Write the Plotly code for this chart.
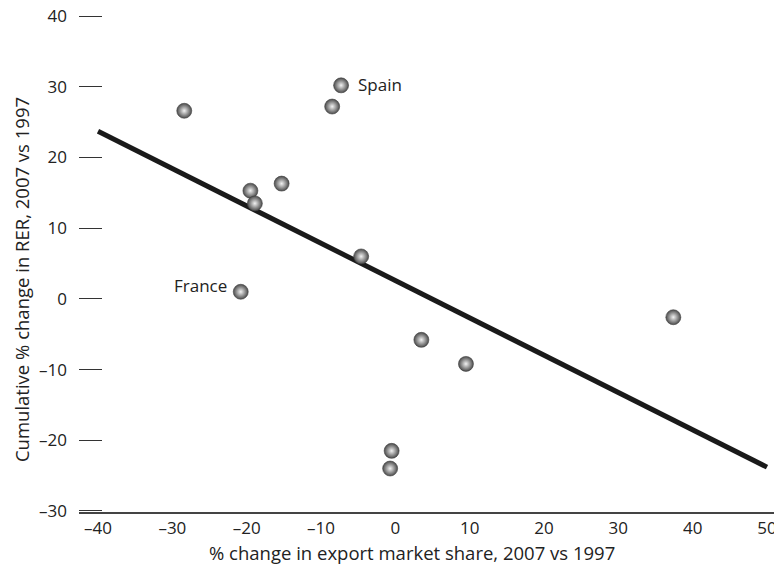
import plotly.graph_objects as go

# Data
export_share_change = [-28.4, -7.3, -8.5, -15.3, -19.5, -18.9, -4.6, -20.8, 3.5, 9.5, -0.5, -0.7, 37.4]
rer_change = [26.6, 30.2, 27.2, 16.3, 15.3, 13.5, 6.0, 1.0, -5.8, -9.2, -21.5, -24.0, -2.6]
point_labels = ["", "Spain", "", "", "", "", "", "France", "", "", "", "", ""]

fit_x = [-40, 50]
fit_y = [23.7, -23.8]

x_tick_vals = [-40, -30, -20, -10, 0, 10, 20, 30, 40, 50]
x_tick_text = ["–40", "–30", "–20", "–10", "0", "10", "20", "30", "40", "50"]
y_tick_vals = [-30, -20, -10, 0, 10, 20, 30, 40]
y_tick_text = ["–30", "–20", "–10", "0", "10", "20", "30", "40"]

FONT = "Open Sans"
FS = 17
FS_TITLE = 18.5

# page body has an 8px margin, so the figure is sized/positioned to compensate
fig = go.Figure()
fig.add_trace(go.Scatter(
    x=fit_x, y=fit_y, mode="lines",
    line=dict(color="#1a1a1a", width=5),
    hoverinfo="skip", showlegend=False,
))
fig.add_trace(go.Scatter(
    x=export_share_change, y=rer_change, mode="markers",
    marker=dict(size=15, color="#4a4a4a",
                gradient=dict(type="radial", color="#f2f2f2"),
                line=dict(color="#404040", width=0.6)),
    showlegend=False,
))

for xv, yv, lab in zip(export_share_change, rer_change, point_labels):
    if not lab:
        continue
    if lab == "Spain":
        fig.add_annotation(x=xv, y=yv, text=lab, showarrow=False,
                           xanchor="left", xshift=15, yshift=1,
                           font=dict(family=FONT, size=FS, color="#222"))
    else:
        fig.add_annotation(x=xv, y=yv, text=lab, showarrow=False,
                           xanchor="right", xshift=-12, yshift=6,
                           font=dict(family=FONT, size=FS, color="#222"))

fig.add_annotation(xref="paper", yref="paper", x=(411.5 - 79) / 701, y=(511 - 551) / 495,
                   text="% change in export market share, 2007 vs 1997",
                   showarrow=False, yanchor="middle", xanchor="center",
                   font=dict(family=FONT, size=FS_TITLE, color="#222"))
fig.add_annotation(xref="paper", yref="paper", x=(21 - 79) / 701, y=(511 - 280) / 495,
                   text="Cumulative % change in RER, 2007 vs 1997",
                   textangle=-90, showarrow=False, xanchor="center", yanchor="middle",
                   font=dict(family=FONT, size=FS_TITLE, color="#222"))

fig.update_layout(
    width=774, height=558,
    margin=dict(l=71, r=2, t=7, b=54),
    plot_bgcolor="white", paper_bgcolor="white",
    font=dict(family=FONT, size=FS, color="#222"),
    xaxis=dict(range=[-42.56, 51.75], tickvals=x_tick_vals, ticktext=x_tick_text,
               showgrid=False, zeroline=False, showline=True,
               linecolor="#444", linewidth=1.5, ticks="",
               tickfont=dict(size=FS), automargin=False),
    yaxis=dict(range=[-30.15, 40.15], tickvals=y_tick_vals, ticktext=y_tick_text,
               showgrid=False, zeroline=False, showline=False,
               ticks="inside", ticklen=23, tickcolor="#333", tickwidth=1,
               ticklabelstandoff=11, ticklabeloverflow="allow",
               tickfont=dict(size=FS), automargin=False),
)

fig.write_html("out.html")
